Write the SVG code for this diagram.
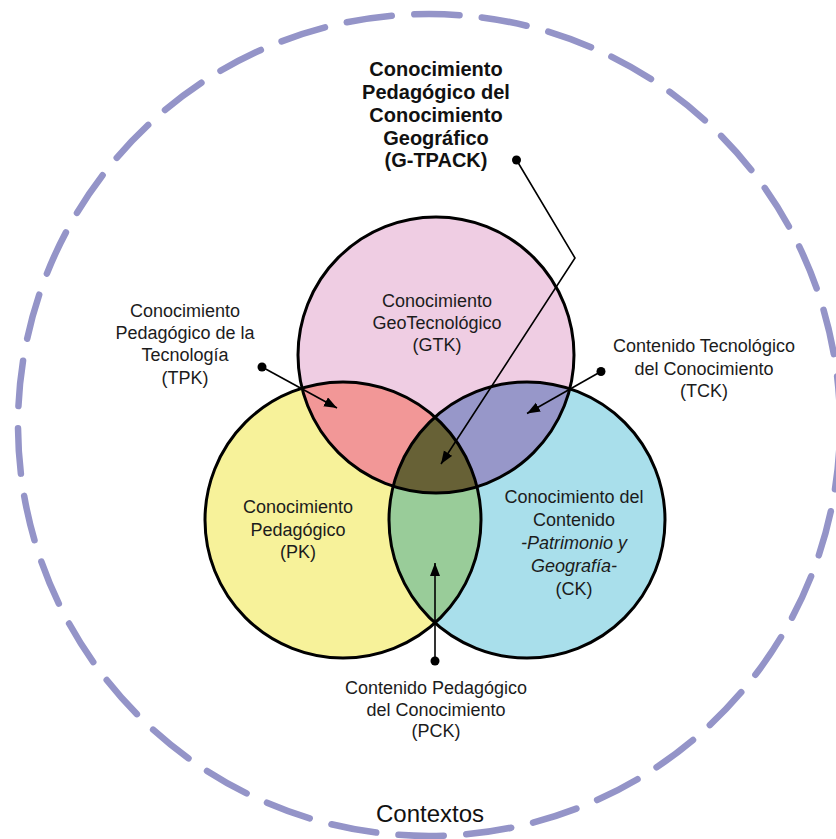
<svg xmlns="http://www.w3.org/2000/svg" width="836" height="839" viewBox="0 0 836 839">
  <style>
    .lbl { font-family: "Liberation Sans", Arial, sans-serif; font-size: 18px; fill: #1c1c1c; text-anchor: middle; }
    .title { font-family: "Liberation Sans", Arial, sans-serif; font-size: 20px; font-weight: bold; fill: #111; text-anchor: middle; }
    .ctx { font-family: "Liberation Sans", Arial, sans-serif; font-size: 24px; fill: #111; text-anchor: middle; }
    .ring { fill: none; stroke: #000; stroke-width: 3; }
    .conn { fill: none; stroke: #000; stroke-width: 1.6; marker-end: url(#arrow); }
    .dot { fill: #000; }
  </style>
  <defs>
    <marker id="arrow" markerUnits="userSpaceOnUse" markerWidth="14" markerHeight="11" refX="13" refY="5" orient="auto">
      <path d="M0,0 L13,5 L0,10 z" fill="#000"/>
    </marker>
    <clipPath id="clip-gtk"><circle cx="436" cy="355" r="138"/></clipPath>
    <clipPath id="clip-pk"><circle cx="343" cy="520" r="138"/></clipPath>
    <clipPath id="clip-ck"><circle cx="527" cy="520" r="138"/></clipPath>
  </defs>

  <rect width="836" height="839" fill="#fff"/>

  <!-- Contexts: dashed outer ring -->
  <g id="contextos">
    <circle cx="429" cy="425" r="411" fill="none" stroke="#9494c8" stroke-width="6.5" stroke-linecap="round" pathLength="38" stroke-dasharray="0.67 0.33" stroke-dashoffset="0.719"/>
    <text class="ctx" x="430" y="822">Contextos</text>
  </g>

  <!-- Base knowledge circles -->
  <g id="gtk">
    <circle cx="436" cy="355" r="138" fill="#efcde3"/>
  </g>
  <g id="pk">
    <circle cx="343" cy="520" r="138" fill="#f7f29a"/>
  </g>
  <g id="ck">
    <circle cx="527" cy="520" r="138" fill="#a9dfeb"/>
  </g>

  <!-- Overlaps -->
  <g id="tpk-area" clip-path="url(#clip-gtk)">
    <circle cx="343" cy="520" r="138" fill="#f29797"/>
  </g>
  <g id="tck-area" clip-path="url(#clip-gtk)">
    <circle cx="527" cy="520" r="138" fill="#9797c9"/>
  </g>
  <g id="pck-area" clip-path="url(#clip-pk)">
    <circle cx="527" cy="520" r="138" fill="#99cc99"/>
  </g>
  <g id="gtpack-area" clip-path="url(#clip-gtk)">
    <circle cx="527" cy="520" r="138" fill="#676136" clip-path="url(#clip-pk)"/>
  </g>

  <!-- Circle outlines -->
  <g id="outlines">
    <circle class="ring" cx="436" cy="355" r="138"/>
    <circle class="ring" cx="343" cy="520" r="138"/>
    <circle class="ring" cx="527" cy="520" r="138"/>
  </g>

  <!-- Circle labels -->
  <g id="gtk-label">
    <text class="lbl" x="437" y="307">Conocimiento</text>
    <text class="lbl" x="437" y="329">GeoTecnológico</text>
    <text class="lbl" x="437" y="351">(GTK)</text>
  </g>
  <g id="pk-label">
    <text class="lbl" x="298" y="513">Conocimiento</text>
    <text class="lbl" x="298" y="535.5">Pedagógico</text>
    <text class="lbl" x="298" y="558">(PK)</text>
  </g>
  <g id="ck-label">
    <text class="lbl" x="574" y="503">Conocimiento del</text>
    <text class="lbl" x="574" y="526">Contenido</text>
    <text class="lbl" x="574" y="549" font-style="italic">-Patrimonio y</text>
    <text class="lbl" x="574" y="572" font-style="italic">Geografía-</text>
    <text class="lbl" x="574" y="595">(CK)</text>
  </g>

  <!-- Outside labels -->
  <g id="gtpack">
    <text class="title" x="436" y="76">Conocimiento</text>
    <text class="title" x="436" y="99">Pedagógico del</text>
    <text class="title" x="436" y="122">Conocimiento</text>
    <text class="title" x="436" y="145">Geográfico</text>
    <text class="title" x="436" y="167">(G-TPACK)</text>
  </g>
  <g id="tpk">
    <text class="lbl" x="185" y="316.5">Conocimiento</text>
    <text class="lbl" x="185" y="339">Pedagógico de la</text>
    <text class="lbl" x="185" y="361">Tecnología</text>
    <text class="lbl" x="185" y="383.5">(TPK)</text>
  </g>
  <g id="tck">
    <text class="lbl" x="704" y="352">Contenido Tecnológico</text>
    <text class="lbl" x="704" y="374.5">del Conocimiento</text>
    <text class="lbl" x="704" y="397">(TCK)</text>
  </g>
  <g id="pck">
    <text class="lbl" x="436" y="694">Contenido Pedagógico</text>
    <text class="lbl" x="436" y="715.5">del Conocimiento</text>
    <text class="lbl" x="436" y="737">(PCK)</text>
  </g>

  <!-- Pointer connectors -->
  <g id="connectors">
    <polyline class="conn" points="516.5,160 575,258 441,464"/>
    <line class="conn" x1="262" y1="367" x2="337" y2="408"/>
    <line class="conn" x1="601" y1="371.5" x2="527" y2="413.5"/>
    <line class="conn" x1="435" y1="661" x2="435" y2="563"/>
    <circle class="dot" cx="516.5" cy="160" r="4.5"/>
    <circle class="dot" cx="262" cy="367" r="4.5"/>
    <circle class="dot" cx="601" cy="371.5" r="4.5"/>
    <circle class="dot" cx="435" cy="661" r="4.5"/>
  </g>
</svg>
